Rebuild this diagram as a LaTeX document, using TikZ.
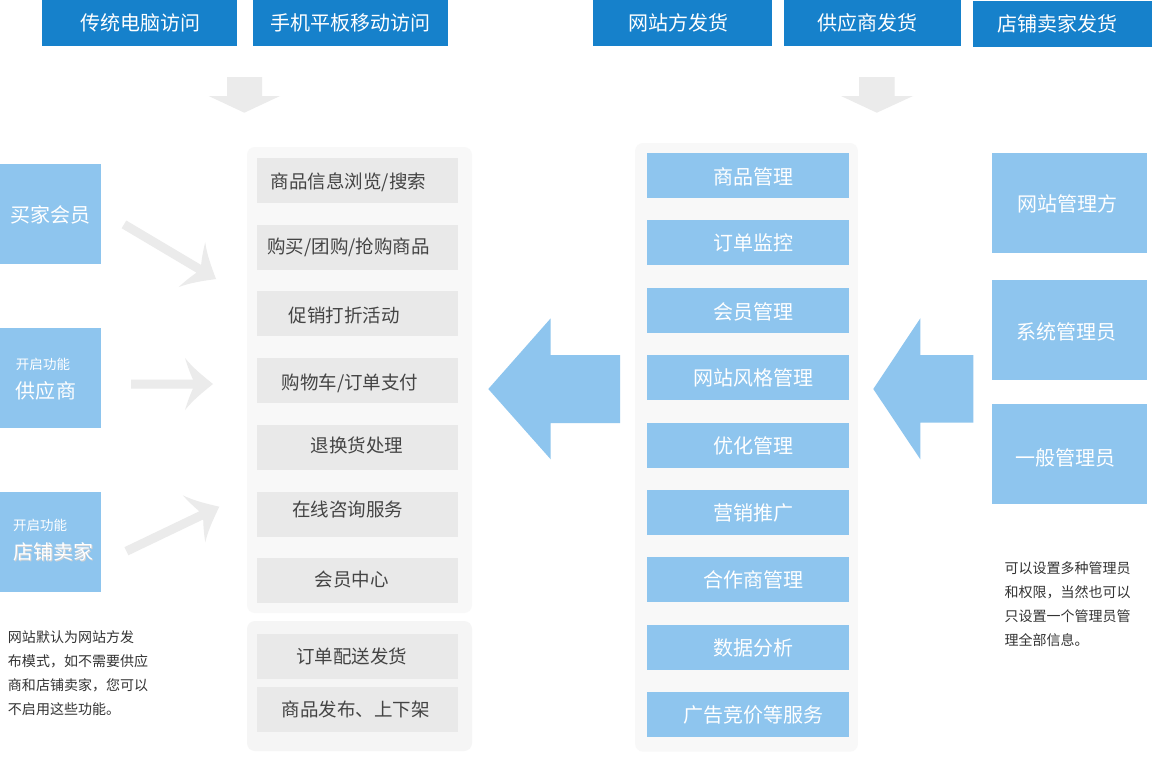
\documentclass[tikz,border=0pt]{standalone}
\usepackage{fontspec}
\setmainfont{Noto Sans CJK SC}
\definecolor{dblue}{HTML}{1681CB}
\definecolor{lblue}{HTML}{8EC5EE}
\definecolor{gbox}{HTML}{E9E9E9}
\definecolor{panelA}{HTML}{F8F8F8}
\definecolor{panelB}{HTML}{F5F5F5}
\definecolor{garrow}{HTML}{EBEBEB}
\definecolor{gtext}{HTML}{444444}
\definecolor{ntext}{HTML}{333333}
% box: style, x1, y1, x2, y2, name
\newcommand\rbox[6]{\node[#1, minimum width={#4-#2}, minimum height={#5-#3}] (#6) at ({(#2+#4)/2},{(#3+#5)/2}) {};}
% swept arrow: tip x, tip y, angle, length
\newcommand\sweptarrow[4]{%
  \fill[garrow, shift={(#1,#2)}, rotate=#3]
    (0,0) .. controls (-10,-8) and (-20,-16) .. (-28,-26)
    .. controls (-25,-16) and (-22,-9) .. (-20,-4.5)
    -- (-#4,-4.5) -- (-#4,4.5) -- (-20,4.5)
    .. controls (-22,9) and (-25,16) .. (-28,26)
    .. controls (-20,16) and (-10,8) .. (0,0) -- cycle;}
\begin{document}
\begin{tikzpicture}[x=1pt,y=-1pt,
  every node/.style={inner sep=0pt, outer sep=0pt},
  topbox/.style={fill=dblue},
  lbbox/.style={fill=lblue},
  gitem/.style={fill=gbox},
  wtxt/.style={text=white, font=\fontsize{20}{24}\selectfont},
  wsmall/.style={text=white, font=\fontsize{13.5}{16}\selectfont},
  gtxt/.style={text=gtext, font=\fontsize{18.5}{22}\selectfont},
  note/.style={text=ntext, font=\fontsize{14}{17}\selectfont, anchor=west},
  panelstyle/.style={rounded corners=8pt}
]
\useasboundingbox (0,0) rectangle (1155,761);
\fill[white] (0,0) rectangle (1155,761);

% ---- top boxes ----
\rbox{topbox}{42}{0}{237}{46}{t1}
\rbox{topbox}{253}{0}{448}{46}{t2}
\rbox{topbox}{593.3}{0}{772.1}{46}{t3}
\rbox{topbox}{783.7}{0}{961.3}{46}{t4}
\rbox{topbox}{973.3}{1}{1152}{47}{t5}
\node[wtxt] (t1t) at (140.3,23) {传统电脑访问};
\node[wtxt] (t2t) at (350.8,23) {手机平板移动访问};
\node[wtxt] (t3t) at (678.8,23) {网站方发货};
\node[wtxt] (t4t) at (867.6,23) {供应商发货};
\node[wtxt] (t5t) at (1057,24) {店铺卖家发货};

% ---- gray down arrows ----
\fill[garrow] (227,77) -- (262,77) -- (262,96) -- (280,96) -- (244.3,112.7) -- (208.7,96) -- (227,96) -- cycle;
\fill[garrow] (859.1,77) -- (894.5,77) -- (894.5,96) -- (913,96) -- (876.8,112.7) -- (841,96) -- (859.1,96) -- cycle;

% ---- left role boxes ----
\rbox{lbbox}{0}{164}{101}{264}{l1}
\rbox{lbbox}{0}{328}{101}{428}{l2}
\rbox{lbbox}{0}{492}{101}{592}{l3}
\node[wtxt] (l1t) at (50,215) {买家会员};
\node[wsmall, anchor=west] (l2s) at (16,364) {开启功能};
\node[wtxt, anchor=west] (l2t) at (16,391) {供应商};
\node[wsmall, anchor=west] (l3s) at (13,525) {开启功能};
\node[wtxt, anchor=west, text=gray!35] (l3sh) at (14.2,553.2) {店铺卖家};
\node[wtxt, anchor=west] (l3t) at (13,552) {店铺卖家};

% ---- gray swept arrows ----
\sweptarrow{216}{279}{-30.7}{107}
\sweptarrow{213}{384}{0}{82}
\sweptarrow{219.3}{506.7}{25.6}{103}

% ---- left panels ----
\fill[panelA, panelstyle] (247,147) rectangle (472,613);
\fill[panelB, panelstyle] (247,621) rectangle (472,751);
\rbox{gitem}{257}{158}{458}{203}{g1}
\rbox{gitem}{257}{225}{458}{270}{g2}
\rbox{gitem}{257}{291}{458}{336}{g3}
\rbox{gitem}{257}{358}{458}{403}{g4}
\rbox{gitem}{257}{425}{458}{470}{g5}
\rbox{gitem}{257}{492}{458}{537}{g6}
\rbox{gitem}{257}{558}{458}{603}{g7}
\rbox{gitem}{257}{634}{458}{679}{g8}
\rbox{gitem}{257}{687}{458}{732}{g9}
\node[gtxt] (g1t) at (348.5,182.2) {商品信息浏览/搜索};
\node[gtxt] (g2t) at (348.5,247.3) {购买/团购/抢购商品};
\node[gtxt] (g3t) at (344,315) {促销打折活动};
\node[gtxt] (g4t) at (350,383) {购物车/订单支付};
\node[gtxt] (g5t) at (357,445) {退换货处理};
\node[gtxt] (g6t) at (347.7,510) {在线咨询服务};
\node[gtxt] (g7t) at (351.7,579.3) {会员中心};
\node[gtxt] (g8t) at (351.7,656.7) {订单配送发货};
\node[gtxt] (g9t) at (355.8,709.3) {商品发布、上下架};

% ---- big blue arrows ----
\fill[lblue] (620,355) -- (620,423) -- (550.7,423) -- (550.7,459.3) -- (488.3,389) -- (550.7,318.3) -- (550.7,355) -- cycle;
\fill[lblue] (973.3,355) -- (973.3,422.7) -- (920.3,422.7) -- (920.3,459.3) -- (873.3,389) -- (920.3,318.3) -- (920.3,355) -- cycle;

% ---- right panel ----
\fill[panelA, panelstyle] (635.1,143) rectangle (857.9,751.7);
\rbox{lbbox}{647}{153}{848.6}{198}{b1}
\rbox{lbbox}{647}{220}{848.6}{265}{b2}
\rbox{lbbox}{647}{288}{848.6}{333}{b3}
\rbox{lbbox}{647}{355}{848.6}{400}{b4}
\rbox{lbbox}{647}{423}{848.6}{468}{b5}
\rbox{lbbox}{647}{490}{848.6}{535}{b6}
\rbox{lbbox}{647}{557}{848.6}{602}{b7}
\rbox{lbbox}{647}{625}{848.6}{670}{b8}
\rbox{lbbox}{647}{692}{848.6}{737}{b9}
\node[wtxt] (b1t) at (753.4,176.5) {商品管理};
\node[wtxt] (b2t) at (753.4,243.3) {订单监控};
\node[wtxt] (b3t) at (753.4,311.5) {会员管理};
\node[wtxt] (b4t) at (753.4,378.3) {网站风格管理};
\node[wtxt] (b5t) at (753.4,445.7) {优化管理};
\node[wtxt] (b6t) at (753.4,513.3) {营销推广};
\node[wtxt] (b7t) at (753.4,580) {合作商管理};
\node[wtxt] (b8t) at (753.4,647.7) {数据分析};
\node[wtxt] (b9t) at (753.4,715) {广告竞价等服务};

% ---- admin boxes ----
\rbox{lbbox}{992.3}{153}{1146.7}{253}{a1}
\rbox{lbbox}{992.3}{280}{1146.7}{380}{a2}
\rbox{lbbox}{992.3}{404}{1146.7}{504}{a3}
\node[wtxt] (a1t) at (1067,204) {网站管理方};
\node[wtxt] (a2t) at (1066.5,331.7) {系统管理员};
\node[wtxt] (a3t) at (1065,458.3) {一般管理员};

% ---- notes ----
\node[note] (n1) at (8,636.7) {网站默认为网站方发};
\node[note] (n2) at (8,661) {布模式，如不需要供应};
\node[note] (n3) at (8,685) {商和店铺卖家，您可以};
\node[note] (n4) at (8,709) {不启用这些功能。};
\node[note] (m1) at (1004.6,567.7) {可以设置多种管理员};
\node[note] (m2) at (1004.6,592.3) {和权限，当然也可以};
\node[note] (m3) at (1004.6,616) {只设置一个管理员管};
\node[note] (m4) at (1004.6,640) {理全部信息。};
\end{tikzpicture}
\end{document}
